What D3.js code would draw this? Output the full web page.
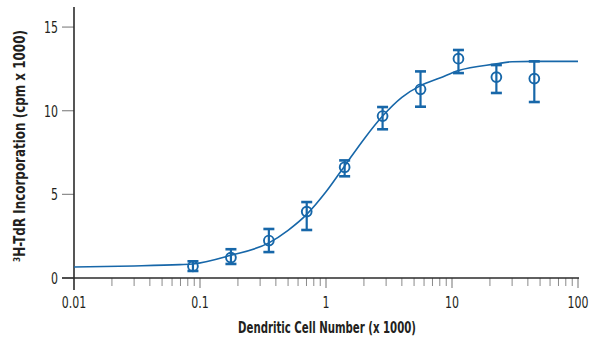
<!DOCTYPE html>
<html><head><meta charset="utf-8">
<script src="https://cdn.jsdelivr.net/npm/d3@7"></script>
<style>
body{margin:0;background:#fff;}
svg{display:block;}
text{font-family:"Liberation Sans Narrow","DejaVu Sans Condensed",sans-serif;fill:#231f20;}
</style></head>
<body><svg id="c" width="590" height="342"></svg>
<script>
// Data points (x in thousands of dendritic cells)
const cellNumber = [0.0879, 0.176, 0.352, 0.703, 1.406, 2.8125, 5.625, 11.25, 22.5, 45];
const meanCpm    = [0.70, 1.22, 2.24, 3.97, 6.62, 9.68, 11.28, 13.11, 12.01, 11.92];
const errLow     = [0.42, 0.84, 1.55, 2.87, 6.08, 8.89, 10.24, 12.25, 11.06, 10.52];
const errHigh    = [1.00, 1.72, 2.93, 4.54, 7.03, 10.22, 12.35, 13.63, 12.73, 12.95];
// Fitted curve
const curveX = [0.01, 0.03, 0.069, 0.0879, 0.176, 0.352, 0.5, 0.703, 1.0, 1.406, 2.0, 2.8125, 4.0, 5.625, 8.0, 11.25, 22.5, 30, 45, 100];
const curveY = [0.66, 0.72, 0.80, 0.84, 1.36, 2.10, 2.85, 3.80, 5.15, 6.70, 8.30, 9.68, 10.80, 11.50, 11.95, 12.40, 12.80, 12.93, 12.95, 12.95];
// Axes
const xTickValues = [0.01, 0.1, 1, 10, 100];
const xTickLabels = ["0.01", "0.1", "1", "10", "100"];
const yTickValues = [0, 5, 10, 15];
const xTitle = "Dendritic Cell Number (x 1000)";
const yTitleSup = "3";
const yTitleMain = "H-TdR Incorporation (cpm x 1000)";

const svg = d3.select("#c");
const blue = "#1767a9";
const x = d3.scaleLog().domain([0.01, 100]).range([74, 578]);
const y = d3.scaleLinear().domain([0, 16.2]).range([278, 7]);

// minor x ticks
const minor = [];
for (let d = 0.01; d < 100; d *= 10) for (let k = 2; k <= 9; k++) minor.push(d * k);
svg.append("g").selectAll("line").data(minor).join("line")
  .attr("x1", d => x(d)).attr("x2", d => x(d))
  .attr("y1", y(0)).attr("y2", y(0) + 8)
  .attr("stroke", "#8a8a8a").attr("stroke-width", 1);
svg.append("g").selectAll("line").data(xTickValues.slice(1)).join("line")
  .attr("x1", d => x(d)).attr("x2", d => x(d))
  .attr("y1", y(0)).attr("y2", y(0) + 10)
  .attr("stroke", "#8a8a8a").attr("stroke-width", 1.2);
// y ticks
svg.append("g").selectAll("line").data(yTickValues).join("line")
  .attr("x1", x(0.01) - 12).attr("x2", x(0.01))
  .attr("y1", d => y(d)).attr("y2", d => y(d))
  .attr("stroke", "#8a8a8a").attr("stroke-width", 1.2);
// axis lines
svg.append("line").attr("x1", x(0.01)).attr("x2", x(0.01)).attr("y1", y(16.2)).attr("y2", y(0) + 12)
  .attr("stroke", "#2b2b2b").attr("stroke-width", 1.6);
svg.append("line").attr("x1", x(0.01) - 12).attr("x2", x(100) + 1).attr("y1", y(0)).attr("y2", y(0))
  .attr("stroke", "#2b2b2b").attr("stroke-width", 1.6);

// tick labels (horizontally compressed to mimic a condensed face)
svg.append("g").selectAll("text").data(yTickValues).join("text")
  .attr("transform", d => `translate(${x(0.01) - 16},${y(d)}) scale(0.74,1)`)
  .attr("dy", "0.36em")
  .attr("text-anchor", "end").attr("font-size", 16.5).text(d => d);
svg.append("g").selectAll("text").data(xTickValues).join("text")
  .attr("transform", d => `translate(${x(d)},${y(0) + 30}) scale(0.74,1)`)
  .attr("text-anchor", "middle").attr("font-size", 16.5).text((d, i) => xTickLabels[i]);

// titles, compressed by a transform to the reference's length
const xt = svg.append("text").attr("text-anchor", "middle")
  .attr("font-size", 16).attr("font-weight", "bold").text(xTitle);
const xtw = xt.node().getComputedTextLength();
xt.attr("transform", `translate(327,333) scale(${178 / xtw},1)`);

const yt = svg.append("text").attr("text-anchor", "middle")
  .attr("font-size", 15.5).attr("font-weight", "bold");
yt.append("tspan").attr("font-size", 9.5).attr("dy", "-5.5").text(yTitleSup);
yt.append("tspan").attr("dy", "5.5").text(yTitleMain);
const ytw = yt.node().getComputedTextLength();
yt.attr("transform", `translate(25,146) rotate(-90) scale(${232 / ytw},1)`);

// curve
const pts = curveX.map((d, i) => [d, curveY[i]]);
svg.append("path").datum(pts)
  .attr("d", d3.line().x(d => x(d[0])).y(d => y(d[1])).curve(d3.curveMonotoneX))
  .attr("fill", "none").attr("stroke", blue).attr("stroke-width", 1.6);

// error bars
const pg = svg.append("g").attr("stroke", blue).attr("fill", "none");
cellNumber.forEach((c, i) => {
  const cx = x(c);
  pg.append("line").attr("x1", cx).attr("x2", cx).attr("y1", y(errLow[i])).attr("y2", y(errHigh[i])).attr("stroke-width", 2.2);
  pg.append("line").attr("x1", cx - 5.5).attr("x2", cx + 5.5).attr("y1", y(errLow[i])).attr("y2", y(errLow[i])).attr("stroke-width", 2.6);
  pg.append("line").attr("x1", cx - 5.5).attr("x2", cx + 5.5).attr("y1", y(errHigh[i])).attr("y2", y(errHigh[i])).attr("stroke-width", 2.6);
  pg.append("circle").attr("cx", cx).attr("cy", y(meanCpm[i])).attr("r", 4.9).attr("stroke-width", 1.9).attr("fill", "none");
});
</script></body></html>
